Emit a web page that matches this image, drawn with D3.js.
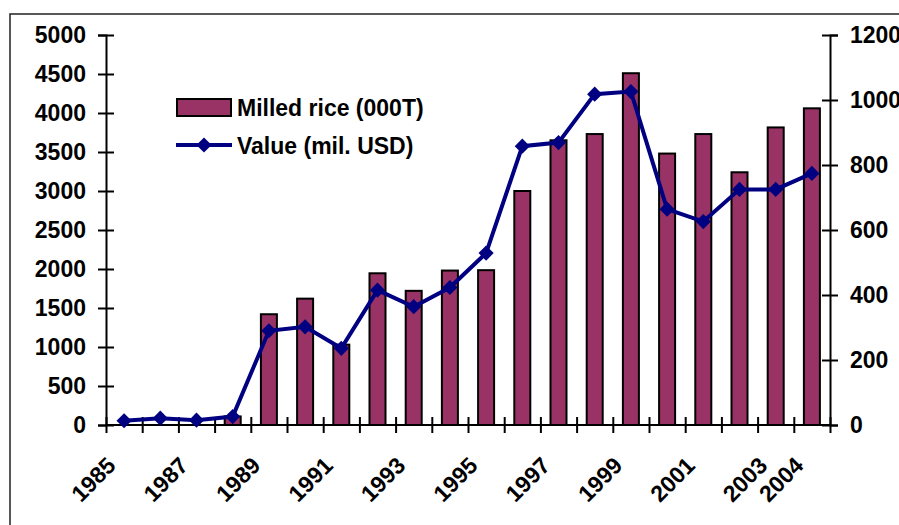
<!DOCTYPE html>
<html>
<head>
<meta charset="utf-8">
<script src="https://cdn.jsdelivr.net/npm/d3@7"></script>
<style>
  body { margin: 0; background: #fff; }
  svg { display: block; font-family: "Liberation Sans", Arial, sans-serif; font-weight: bold; }
</style>
</head>
<body>
<div id="chart"></div>
<script>
// data
const years = ["1985", "1986", "1987", "1988", "1989", "1990", "1991", "1992", "1993", "1994",
    "1995", "1996", "1997", "1998", "1999", "2000", "2001", "2002", "2003", "2004"];
const shownYears = ["1985", "1987", "1989", "1991", "1993", "1995", "1997", "1999", "2001", "2003", "2004"];
const milledRice = [0, 0, 0, 110, 1420, 1620, 1030, 1945, 1720, 1980,
    1985, 3000, 3650, 3730, 4510, 3480, 3730, 3240, 3815, 4060];
const valueUsd = [13, 21, 15, 26, 290, 302, 236, 415, 364, 423,
    529, 858, 869, 1018, 1026, 664, 626, 725, 725, 774];
const leftTicks = [0, 500, 1000, 1500, 2000, 2500, 3000, 3500, 4000, 4500, 5000];
const rightTicks = [0, 200, 400, 600, 800, 1000, 1200];
const seriesNames = ["Milled rice (000T)", "Value (mil. USD)"];

const W = 899, H = 525;
const plot = { left: 106, right: 830, top: 35, bottom: 425 };

const svg = d3.select("#chart").append("svg")
    .attr("width", W)
    .attr("height", H);

// chart frame (runs off the right and bottom edges)
svg.append("rect")
    .attr("x", 10).attr("y", 14)
    .attr("width", 1000).attr("height", 600)
    .attr("fill", "none")
    .attr("stroke", "#222")
    .attr("stroke-width", 1.5);

const x = d3.scaleBand()
    .domain(years)
    .range([plot.left, plot.right]);

const xEdge = d3.scaleLinear()
    .domain([0, years.length])
    .range([plot.left, plot.right]);

const yLeft = d3.scaleLinear()
    .domain([0, 5000])
    .range([plot.bottom, plot.top]);

const yRight = d3.scaleLinear()
    .domain([0, 1200])
    .range([plot.bottom, plot.top]);

// bars
const barW = 16;
svg.append("g")
    .selectAll("rect")
    .data(milledRice)
    .join("rect")
    .attr("x", (d, i) => x(years[i]) + x.bandwidth() / 2 - barW / 2)
    .attr("y", d => yLeft(d))
    .attr("width", barW)
    .attr("height", d => yLeft(0) - yLeft(d))
    .attr("fill", "#993366")
    .attr("stroke", "#000")
    .attr("stroke-width", d => d > 0 ? 2 : 0);

// axes
const fontSize = 23;
const fmt = d3.format("d");

const gLeft = svg.append("g")
    .attr("transform", `translate(${plot.left},0)`)
    .call(d3.axisLeft(yLeft).tickValues(leftTicks).tickFormat(fmt).tickSize(8).tickPadding(12));

const gRight = svg.append("g")
    .attr("transform", `translate(${plot.right},0)`)
    .call(d3.axisRight(yRight).tickValues(rightTicks).tickFormat(fmt).tickSize(8).tickPadding(12));

[gLeft, gRight].forEach(g => {
    g.select(".domain").attr("stroke", "#000").attr("stroke-width", 2);
    g.selectAll(".tick line").attr("x1", -8).attr("x2", 8).attr("stroke", "#000").attr("stroke-width", 2);
    g.selectAll(".tick text")
        .attr("fill", "#000")
        .style("font-size", fontSize + "px")
        .style("font-family", "'Liberation Sans', Arial, sans-serif")
        .style("font-weight", "bold");
});

// x ticks at category edges, crossing the axis
const gEdge = svg.append("g")
    .attr("transform", `translate(0,${plot.bottom})`)
    .call(d3.axisBottom(xEdge).tickValues(d3.range(years.length + 1)).tickSize(8).tickFormat(""));
gEdge.select(".domain").attr("stroke", "#000").attr("stroke-width", 2)
    .attr("d", `M${plot.left},0H${plot.right}`);
gEdge.selectAll(".tick line").attr("y1", -8).attr("y2", 8).attr("stroke", "#000").attr("stroke-width", 2);

// x labels
const gX = svg.append("g")
    .attr("transform", `translate(0,${plot.bottom})`)
    .call(d3.axisBottom(x).tickSize(0).tickFormat(d => shownYears.includes(d) ? d : ""));
gX.select(".domain").remove();
gX.selectAll(".tick text")
    .attr("fill", "#000")
    .attr("text-anchor", "end")
    .attr("x", 0).attr("y", 0).attr("dy", 0)
    .attr("transform", "translate(-7,42) rotate(-45)")
    .style("font-size", fontSize + "px")
    .style("font-family", "'Liberation Sans', Arial, sans-serif")
    .style("font-weight", "bold");

// value line
const line = d3.line()
    .x((d, i) => x(years[i]) + x.bandwidth() / 2)
    .y(d => yRight(d));

svg.append("path")
    .datum(valueUsd)
    .attr("fill", "none")
    .attr("stroke", "#000080")
    .attr("stroke-width", 4)
    .attr("d", line);

const diamond = d3.symbol().type(d3.symbolSquare).size(115);

svg.append("g")
    .selectAll("path")
    .data(valueUsd)
    .join("path")
    .attr("d", diamond)
    .attr("transform", (d, i) => `translate(${x(years[i]) + x.bandwidth() / 2},${yRight(d)}) rotate(45)`)
    .attr("fill", "#000080");

// legend
const legend = svg.append("g");
legend.append("rect")
    .attr("x", 177).attr("y", 99)
    .attr("width", 54).attr("height", 17)
    .attr("fill", "#993366")
    .attr("stroke", "#000")
    .attr("stroke-width", 2);
legend.append("line")
    .attr("x1", 176).attr("x2", 232)
    .attr("y1", 145).attr("y2", 145)
    .attr("stroke", "#000080")
    .attr("stroke-width", 4);
legend.append("path")
    .attr("d", diamond)
    .attr("transform", "translate(204,145) rotate(45)")
    .attr("fill", "#000080");

legend.selectAll("text")
    .data(seriesNames)
    .join("text")
    .attr("x", 237)
    .attr("y", (d, i) => 108 + i * 38)
    .attr("dy", "0.35em")
    .attr("fill", "#000")
    .style("font-size", fontSize + "px")
    .text(d => d);
</script>
</body>
</html>
